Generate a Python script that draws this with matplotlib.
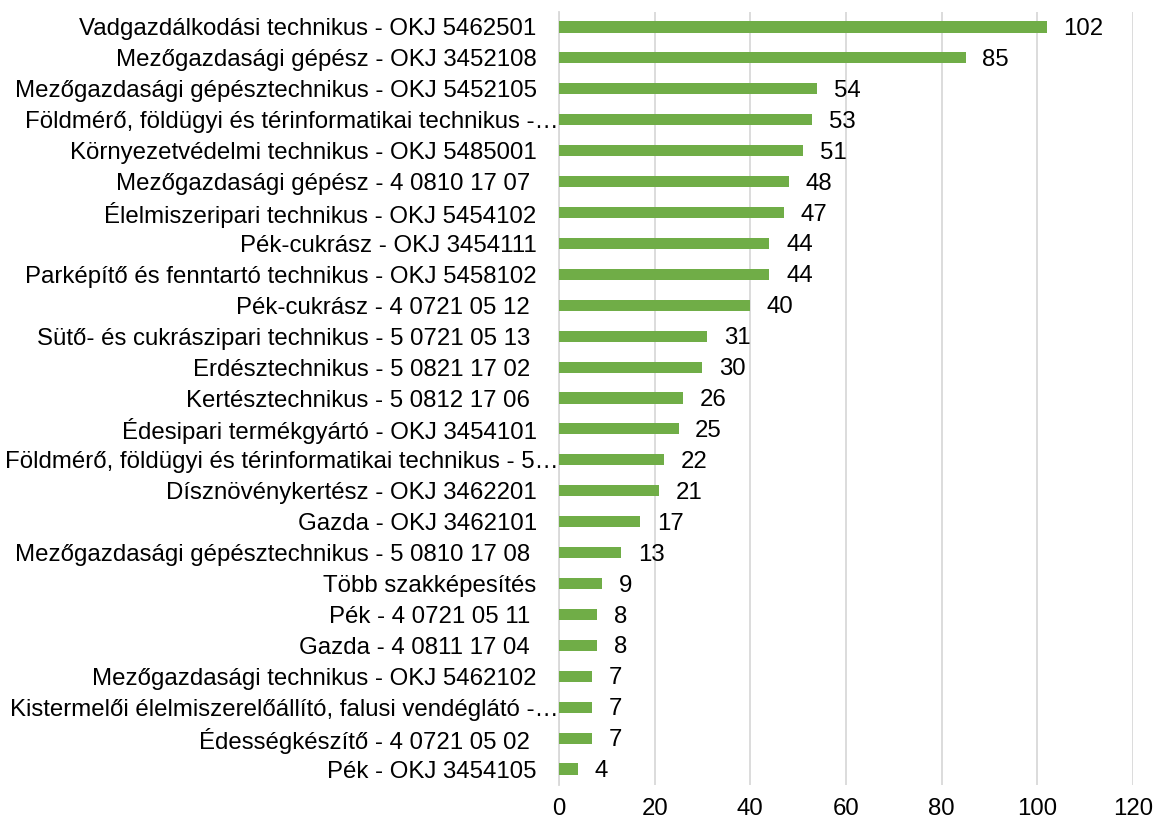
import matplotlib.pyplot as plt
from matplotlib.transforms import ScaledTranslation

plt.rcParams['font.family'] = ['Liberation Sans', 'DejaVu Sans']

labels = [
    "Vadgazdálkodási technikus - OKJ 5462501",
    "Mezőgazdasági gépész - OKJ 3452108",
    "Mezőgazdasági gépésztechnikus - OKJ 5452105",
    "Földmérő, földügyi és térinformatikai technikus -…",
    "Környezetvédelmi technikus - OKJ 5485001",
    "Mezőgazdasági gépész - 4 0810 17 07 ",
    "Élelmiszeripari technikus - OKJ 5454102",
    "Pék-cukrász - OKJ 3454111",
    "Parképítő és fenntartó technikus - OKJ 5458102",
    "Pék-cukrász - 4 0721 05 12 ",
    "Sütő- és cukrászipari technikus - 5 0721 05 13 ",
    "Erdésztechnikus - 5 0821 17 02 ",
    "Kertésztechnikus - 5 0812 17 06 ",
    "Édesipari termékgyártó - OKJ 3454101",
    "Földmérő, földügyi és térinformatikai technikus - 5…",
    "Dísznövénykertész - OKJ 3462201",
    "Gazda - OKJ 3462101",
    "Mezőgazdasági gépésztechnikus - 5 0810 17 08 ",
    "Több szakképesítés",
    "Pék - 4 0721 05 11 ",
    "Gazda - 4 0811 17 04 ",
    "Mezőgazdasági technikus - OKJ 5462102",
    "Kistermelői élelmiszerelőállító, falusi vendéglátó -…",
    "Édességkészítő - 4 0721 05 02 ",
    "Pék - OKJ 3454105",
]
values = [102, 85, 54, 53, 51, 48, 47, 44, 44, 40, 31, 30, 26, 25, 22, 21,
          17, 13, 9, 8, 8, 7, 7, 7, 4]
xticks = [0, 20, 40, 60, 80, 100, 120]

green = '#70AD47'
grid = '#D9D9D9'
fs = 17.3

fig = plt.figure(figsize=(11.58, 8.22), dpi=100)
ax = fig.add_axes([0.4827, 0.0456, 0.4957, 0.9404])

pos = list(range(len(labels)))
ax.barh(pos, values, height=0.36, color=green, zorder=3)
ax.set_ylim(len(labels) - 0.5, -0.5)
ax.set_xlim(0, 120)
ax.set_xticks(xticks)
ax.set_yticks(pos)
ax.set_yticklabels(labels, fontsize=fs)
ax.tick_params(axis='y', length=0, pad=16)
ax.tick_params(axis='x', length=0, pad=10, labelsize=fs)
ax.grid(axis='x', color=grid, linewidth=1.3, zorder=0)

for s in ['top', 'right', 'bottom']:
    ax.spines[s].set_visible(False)
ax.spines['left'].set_color(grid)
ax.spines['left'].set_linewidth(1.3)

# truncated labels sit closer to the axis
for lab in ax.get_yticklabels():
    if lab.get_text().endswith('…'):
        lab.set_transform(lab.get_transform() + ScaledTranslation(22 / 100, 0, fig.dpi_scale_trans))

for p, v in zip(pos, values):
    ax.annotate(str(v), (v, p), xytext=(12, -1.5), textcoords='offset points',
                ha='left', va='center', fontsize=fs)

plt.savefig('out.png', dpi=100)
